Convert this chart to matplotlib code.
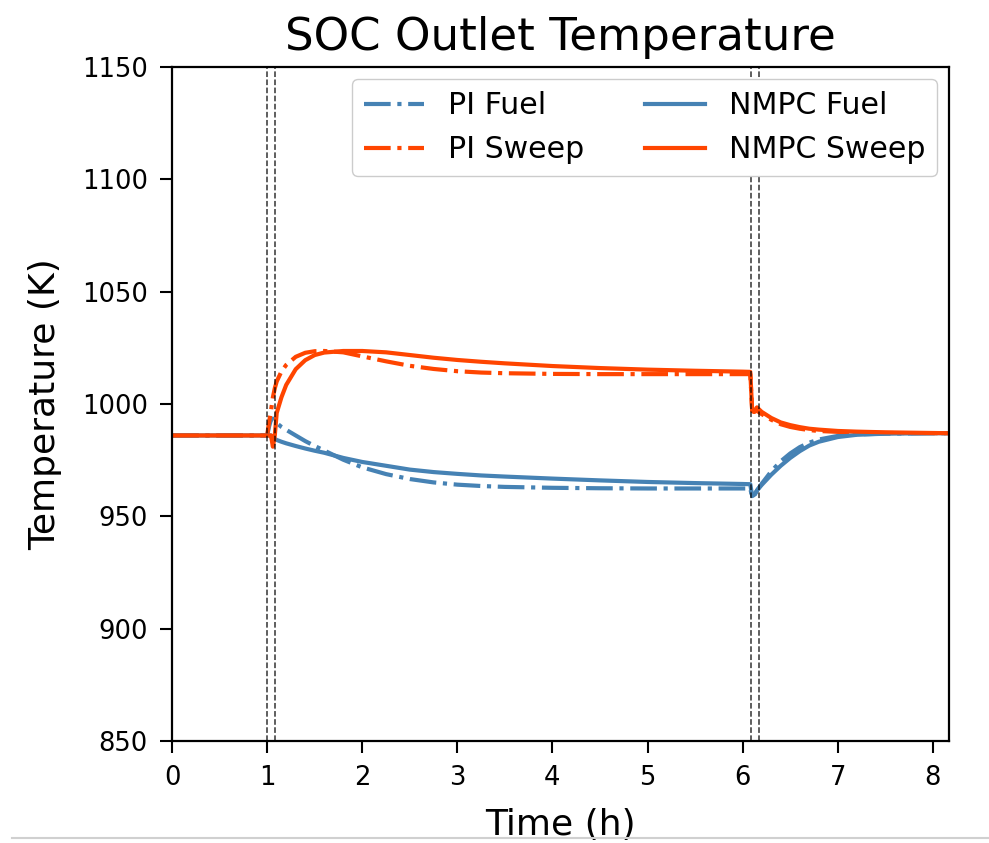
"""
plot.py

SOC outlet temperature: PI vs NMPC control, fuel and sweep outlets.
"""

import matplotlib
matplotlib.use("Agg")
import matplotlib.pyplot as plt
from matplotlib.lines import Line2D


# ------------------------------------------------------------------ #
# Data
# ------------------------------------------------------------------ #
time_h = [
    0.0, 1.0, 1.02, 1.04, 1.06, 1.08, 1.1, 1.15, 1.2, 1.3, 1.4, 1.5, 1.6,
    1.8, 2.0, 2.25, 2.5, 2.75, 3.0, 3.25, 3.5, 4.0, 4.5, 5.0, 5.5, 6.0,
    6.08, 6.1, 6.12, 6.15, 6.2, 6.3, 6.4, 6.5, 6.6, 6.7, 6.8, 7.0, 7.2,
    7.5, 8.0, 8.17,
]

pi_fuel = [
    986.0, 986.0, 990.0, 993.0, 993.5, 992.5, 991.5, 989.8, 988.5, 986.0,
    983.5, 981.3, 979.3, 975.2, 971.8, 968.8, 966.6, 965.1, 964.1, 963.5,
    963.1, 962.7, 962.5, 962.4, 962.4, 962.4, 962.4, 958.5, 959.0, 961.5,
    964.5, 970.0, 974.5, 978.0, 980.8, 982.8, 984.2, 985.8, 986.5, 986.8,
    987.0, 987.0,
]

pi_sweep = [
    986.0, 986.0, 992.0, 997.0, 1003.0, 1007.0, 1010.0, 1014.5, 1017.4,
    1021.0, 1022.8, 1023.5, 1023.6, 1023.0, 1021.2, 1019.0, 1017.0, 1015.6,
    1014.6, 1014.0, 1013.7, 1013.4, 1013.3, 1013.3, 1013.3, 1013.3, 1013.3,
    997.0, 996.5, 997.0, 995.5, 993.0, 991.0, 989.8, 989.0, 988.4, 988.0,
    987.6, 987.3, 987.1, 987.0, 987.0,
]

nmpc_fuel = [
    986.0, 986.0, 986.0, 986.0, 983.5, 984.5, 984.0, 983.2, 982.5, 981.3,
    980.2, 979.2, 978.3, 976.0, 974.2, 972.5, 970.8, 969.7, 968.9, 968.2,
    967.7, 966.8, 966.0, 965.3, 964.8, 964.4, 964.3, 959.0, 959.5, 961.5,
    964.0, 968.5, 972.5, 976.0, 979.0, 981.5, 983.2, 985.3, 986.3, 986.8,
    987.0, 987.0,
]

nmpc_sweep = [
    986.0, 986.0, 986.0, 986.0, 981.0, 986.0, 996.0, 1003.0, 1008.5,
    1015.5, 1019.5, 1021.8, 1022.9, 1023.6, 1023.6, 1023.0, 1021.8, 1020.6,
    1019.6, 1018.8, 1018.1, 1016.9, 1016.0, 1015.3, 1014.8, 1014.4, 1014.3,
    997.0, 996.5, 998.5, 996.5, 993.8, 991.8, 990.6, 989.7, 989.0, 988.6,
    988.0, 987.7, 987.4, 987.1, 987.0,
]

# step change / controller switch instants
event_times = [1.0, 1.083, 6.083, 6.167]

FUEL_COLOR = "steelblue"
SWEEP_COLOR = "orangered"


# ------------------------------------------------------------------ #
# Figure
# ------------------------------------------------------------------ #
fig = plt.figure(figsize=(9.89, 8.43), dpi=100)
ax = fig.add_axes([0.174, 0.121, 0.7856, 0.7995])

lw = 3.0
ax.plot(time_h, pi_fuel, color=FUEL_COLOR, ls="-.", lw=lw, label="PI Fuel")
ax.plot(time_h, pi_sweep, color=SWEEP_COLOR, ls="-.", lw=lw, label="PI Sweep")
ax.plot(time_h, nmpc_fuel, color=FUEL_COLOR, ls="-", lw=lw, label="NMPC Fuel")
ax.plot(time_h, nmpc_sweep, color=SWEEP_COLOR, ls="-", lw=lw, label="NMPC Sweep")

for t in event_times:
    ax.axvline(t, color="k", ls="--", lw=1.1, alpha=0.8)

ax.set_xlim(0, 8.17)
ax.set_ylim(850, 1150)
ax.set_xticks(range(0, 9))
ax.set_yticks(range(850, 1151, 50))

ax.set_title("SOC Outlet Temperature", fontsize=32.5, pad=12)
ax.set_xlabel("Time (h)", fontsize=26, labelpad=12)
ax.set_ylabel("Temperature (K)", fontsize=26, labelpad=14)
ax.tick_params(labelsize=18.6, width=1.5, length=8.5, pad=9)
for sp in ax.spines.values():
    sp.set_linewidth(1.6)

ax.legend(ncol=2, loc="upper right", fontsize=21.6, framealpha=1.0,
          handlelength=2.0, columnspacing=2.0, borderaxespad=0.4)

# thin grey rule along the bottom of the screenshot
fig.add_artist(Line2D([0.012, 1.0], [1 - 838 / 843, 1 - 838 / 843],
                      transform=fig.transFigure, color="#d0d0d0", lw=1.5))

fig.savefig("out.png", dpi=100)
plt.close(fig)
